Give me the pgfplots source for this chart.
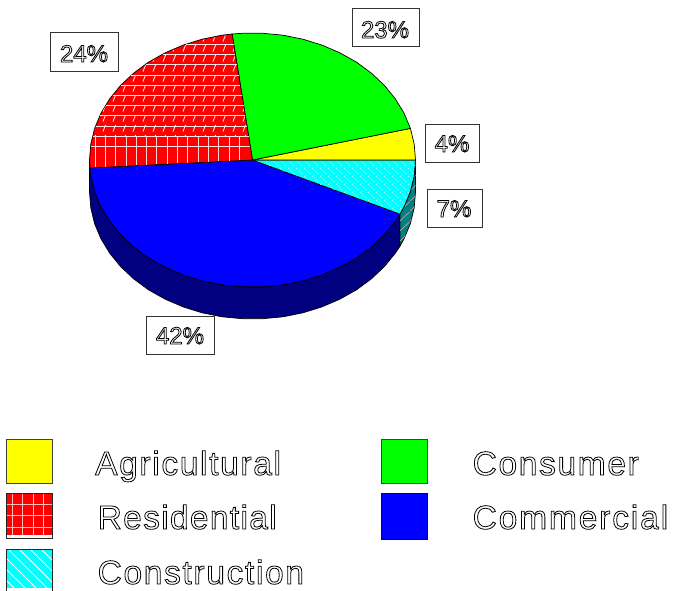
\documentclass[border=0pt]{standalone}
\usepackage{fontspec}
\usepackage{pgfplots}
\pgfplotsset{compat=1.18}
\usetikzlibrary{patterns}
\setmainfont{Liberation Sans}
\newfontfamily\legfont[LetterSpace=5]{Liberation Sans}
\newfontfamily\legfontb[LetterSpace=4]{Liberation Sans}
\newfontfamily\legfontc[LetterSpace=5.6]{Liberation Sans}
\newcommand\outl[1]{\special{pdf:code q 1 Tr 0.8 w 0 0 0 RG}#1\special{pdf:code Q}}
\pgfdeclarepatternformonly{ticks}{\pgfqpoint{0bp}{0bp}}{\pgfqpoint{10.3bp}{10.2bp}}{\pgfqpoint{10.3bp}{10.2bp}}{
  \pgfsetlinewidth{0.9bp}
  \pgfpathmoveto{\pgfqpoint{1bp}{1.5bp}}\pgfpathlineto{\pgfqpoint{3.8bp}{8.5bp}}\pgfusepath{stroke}}
\pgfdeclarepatternformonly{dotdiag}{\pgfqpoint{0bp}{0bp}}{\pgfqpoint{8bp}{8bp}}{\pgfqpoint{8bp}{8bp}}{
  \pgfpathrectangle{\pgfqpoint{0bp}{7bp}}{\pgfqpoint{1bp}{1bp}}
  \pgfpathrectangle{\pgfqpoint{2bp}{5bp}}{\pgfqpoint{1bp}{1bp}}
  \pgfpathrectangle{\pgfqpoint{4bp}{3bp}}{\pgfqpoint{1bp}{1bp}}
  \pgfpathrectangle{\pgfqpoint{6bp}{1bp}}{\pgfqpoint{1bp}{1bp}}
  \pgfusepath{fill}}
\pgfdeclarepatternformonly{sidehatch}{\pgfqpoint{0bp}{0bp}}{\pgfqpoint{10bp}{10bp}}{\pgfqpoint{10bp}{10bp}}{
  \pgfsetlinewidth{0.8bp}
  \pgfpathmoveto{\pgfqpoint{0bp}{0bp}}\pgfpathlineto{\pgfqpoint{10bp}{10bp}}\pgfusepath{stroke}}
\definecolor{navyside}{RGB}{0,0,128}
\definecolor{tealside}{RGB}{0,128,128}
\definecolor{pcyan}{RGB}{0,255,255}
\definecolor{pyellow}{RGB}{255,255,0}
\definecolor{pgreen}{RGB}{0,255,0}
\definecolor{pblue}{RGB}{0,0,255}
\definecolor{pred}{RGB}{255,0,0}
\begin{document}
\begin{tikzpicture}
\begin{axis}[scale only axis,width=673bp,height=591bp,xmin=0,xmax=673,ymin=0,ymax=591,y dir=reverse,
  hide axis,clip=true,unbounded coords=jump]
\addplot[draw=none] coordinates {(0,0)(673,0)(673,591)(0,591)};
% side walls
\addplot[fill=navyside,draw=black,line width=0.7bp] coordinates {
(89.5,160)(89.8,168)(90.8,175.9)(94.6,191.6)(100.9,206.7)(109.7,221.2)(120.6,234.6)(133.7,246.9)(148.6,257.9)(165.2,267.2)(183.1,274.9)(202.1,280.8)(222,284.8)(242.3,286.7)(262.7,286.7)(283,284.8)(302.9,280.8)(321.9,274.9)(339.8,267.2)(356.4,257.9)(371.3,246.9)(384.4,234.6)(395.3,221.2)(400,214.1)
(400,246.1)(395.3,253.2)(384.4,266.6)(371.3,278.9)(356.4,289.9)(339.8,299.2)(321.9,306.9)(302.9,312.8)(283,316.8)(262.7,318.7)(242.3,318.7)(222,316.8)(202.1,312.8)(183.1,306.9)(165.2,299.2)(148.6,289.9)(133.7,278.9)(120.6,266.6)(109.7,253.2)(100.9,238.7)(94.6,223.6)(90.8,207.9)(89.5,192)
} -- cycle;
\addplot[fill=tealside,draw=black,line width=0.7bp] coordinates {
(400,214.1)(404.1,206.7)(410.4,191.6)(414.2,175.9)(415.5,160)(415.5,192)(414.2,207.9)(410.4,223.6)(404.1,238.7)(400,246.1)
} -- cycle;
\addplot[draw=none,pattern=sidehatch,pattern color=gray!70] coordinates {
(400,214.1)(404.1,206.7)(410.4,191.6)(414.2,175.9)(415.5,160)(415.5,192)(414.2,207.9)(410.4,223.6)(404.1,238.7)(400,246.1)
} -- cycle;
% Commercial
\addplot[fill=pblue,draw=black,line width=0.7bp] coordinates {
(252.5,160)(89.8,168)(90.8,175.9)(94.6,191.6)(100.9,206.7)(109.7,221.2)(120.6,234.6)(133.7,246.9)(148.6,257.9)(165.2,267.2)(183.1,274.9)(202.1,280.8)(222,284.8)(242.3,286.7)(262.7,286.7)(283,284.8)(302.9,280.8)(321.9,274.9)(339.8,267.2)(356.4,257.9)(371.3,246.9)(384.4,234.6)(395.3,221.2)(400,214.1)
} -- cycle;
% Construction
\addplot[fill=pcyan,draw=black,line width=0.7bp] coordinates {
(252.5,160)(400,214.1)(404.1,206.7)(410.4,191.6)(414.2,175.9)(415.5,160)
} -- cycle;
\addplot[draw=none,pattern=dotdiag,pattern color=white] coordinates {
(253.5,160.8)(399.5,213.2)(404,205.7)(410,191)(413.8,175.9)(415,160.8)
} -- cycle;
% Agricultural
\addplot[fill=pyellow,draw=black,line width=0.7bp] coordinates {
(252.5,160)(415.5,160)(414.2,144.1)(410.4,128.4)
} -- cycle;
% Consumer
\addplot[fill=pgreen,draw=black,line width=0.7bp] coordinates {
(252.5,160)(410.4,128.4)(404.1,113.3)(395.3,98.8)(384.4,85.4)(371.3,73.1)(356.4,62.1)(339.8,52.8)(321.9,45.1)(302.9,39.2)(283,35.2)(262.7,33.3)(242.3,33.3)(232.1,34)
} -- cycle;
% Residential
\addplot[fill=pred,draw=black,line width=0.7bp] coordinates {
(252.5,160)(232.1,34)(222,35.2)(202.1,39.2)(183.1,45.1)(165.2,52.8)(148.6,62.1)(133.7,73.1)(120.6,85.4)(109.7,98.8)(100.9,113.3)(94.6,128.4)(90.8,144.1)(89.5,160)(89.8,168)
} -- cycle;
\addplot[draw=none,pattern=ticks,pattern color=white!90!pred] coordinates {
(231.5,35)(222,36)(202.1,40)(183.1,46)(165.2,53.5)(148.6,63)(133.7,74)(120.6,86)(109.7,99.5)(100.9,114)(94.6,129)(92.5,136)(248.6,136)
} -- cycle;
\addplot[white!90!pred,line width=0.8bp] coordinates {
(186.1,44)(233.7,44)(nan,nan)
(162.7,54)(235.3,54)(nan,nan)
(145.8,64)(237,64)(nan,nan)
(131.4,75)(238.7,75)(nan,nan)
(121,85)(240.4,85)(nan,nan)
(112.5,95)(242,95)(nan,nan)
(105.6,105)(243.6,105)(nan,nan)
(100.1,115)(245.2,115)(nan,nan)
(95.5,126)(247,126)(nan,nan)
(92.5,136)(248.6,136)(nan,nan)
(90.5,146)(250.2,146)
};
\addplot[white!85!pred,line width=0.8bp] coordinates {
(95,136)(95,167)(nan,nan)
(105.3,136)(105.3,166.6)(nan,nan)
(115.6,136)(115.6,166.1)(nan,nan)
(125.9,136)(125.9,165.6)(nan,nan)
(136.2,136)(136.2,165.1)(nan,nan)
(146.5,136)(146.5,164.6)(nan,nan)
(156.8,136)(156.8,164.1)(nan,nan)
(167.1,136)(167.1,163.6)(nan,nan)
(177.4,136)(177.4,163.1)(nan,nan)
(187.7,136)(187.7,162.6)(nan,nan)
(198,136)(198,162.1)(nan,nan)
(208.3,136)(208.3,161.6)(nan,nan)
(218.6,136)(218.6,161.1)(nan,nan)
(228.9,136)(228.9,160.6)(nan,nan)
(239.2,136)(239.2,160)
};
% label boxes
\addplot[fill=white,draw=black!80,line width=1bp] coordinates {(50,33)(118,33)(118,72)(50,72)} -- cycle;
\addplot[fill=white,draw=black!80,line width=1bp] coordinates {(352,9)(419,9)(419,47)(352,47)} -- cycle;
\addplot[fill=white,draw=black!80,line width=1bp] coordinates {(425,124)(479,124)(479,162)(425,162)} -- cycle;
\addplot[fill=white,draw=black!80,line width=1bp] coordinates {(427,189)(482,189)(482,227)(427,227)} -- cycle;
\addplot[fill=white,draw=black!80,line width=1bp] coordinates {(146,316)(214,316)(214,354)(146,354)} -- cycle;
\node[anchor=base,inner sep=0pt,font=\fontsize{24.1}{26}\selectfont] at (axis cs:84,62) {\outl{24\%}};
\node[anchor=base,inner sep=0pt,font=\fontsize{24.1}{26}\selectfont] at (axis cs:385,38) {\outl{23\%}};
\node[anchor=base,inner sep=0pt,font=\fontsize{24.1}{26}\selectfont] at (axis cs:452,152) {\outl{4\%}};
\node[anchor=base,inner sep=0pt,font=\fontsize{24.1}{26}\selectfont] at (axis cs:454,217) {\outl{7\%}};
\node[anchor=base,inner sep=0pt,font=\fontsize{24.1}{26}\selectfont] at (axis cs:180,344) {\outl{42\%}};
% legend swatches
\addplot[fill=pyellow,draw=none] coordinates {(7,440)(53,440)(53,484)(7,484)} -- cycle;
\addplot[draw=black!75,line width=0.8bp] coordinates {(6,439)(52,439)(52,483)(6,483)} -- cycle;
\addplot[fill=pred,draw=none] coordinates {(6,493)(53,493)(53,535)(6,535)} -- cycle;
\addplot[white!75!pred,line width=0.8bp] coordinates {
(12,493)(12,535)(nan,nan)(22.5,493)(22.5,535)(nan,nan)(33,493)(33,535)(nan,nan)(43.5,493)(43.5,535)(nan,nan)
(6,504)(52,504)(nan,nan)(6,515.5)(52,515.5)(nan,nan)(6,527)(52,527)
};
\addplot[draw=black!85,line width=0.8bp] coordinates {(6,493)(52,493)(52,538)(6,538)} -- cycle;
\addplot[fill=pcyan,draw=none] coordinates {(6,549)(53,549)(53,588)(6,588)} -- cycle;
\addplot[white,line width=0.8bp] coordinates {
(6,558)(36,588)(nan,nan)(6,569)(25,588)(nan,nan)(6,580)(14,588)(nan,nan)
(8,549)(47,588)(nan,nan)(19,549)(52,582)(nan,nan)(30,549)(52,571)(nan,nan)(41,549)(52,560)
};
\addplot[draw=black!85,line width=0.8bp] coordinates {(6,591)(6,549)(52,549)(52,591)};
\addplot[fill=pgreen,draw=none] coordinates {(382,440)(428,440)(428,484)(382,484)} -- cycle;
\addplot[draw=black!75,line width=0.8bp] coordinates {(381,439)(427,439)(427,483)(381,483)} -- cycle;
\addplot[fill=pblue,draw=navyside,line width=0.8bp] coordinates {(381,493)(427,493)(427,539)(381,539)} -- cycle;
% legend text
\node[anchor=base west,inner sep=0pt,font=\fontsize{33.6}{36}\legfont] at (axis cs:95,475) {\outl{Agricultural}};
\node[anchor=base west,inner sep=0pt,font=\fontsize{33.6}{36}\legfontb] at (axis cs:97.5,529) {\outl{Residential}};
\node[anchor=base west,inner sep=0pt,font=\fontsize{33.6}{36}\legfont] at (axis cs:97.5,584) {\outl{Construction}};
\node[anchor=base west,inner sep=0pt,font=\fontsize{33.6}{36}\legfont] at (axis cs:472.5,475) {\outl{Consumer}};
\node[anchor=base west,inner sep=0pt,font=\fontsize{33.6}{36}\legfontc] at (axis cs:472.5,529) {\outl{Commercial}};
\end{axis}
\end{tikzpicture}
\end{document}
